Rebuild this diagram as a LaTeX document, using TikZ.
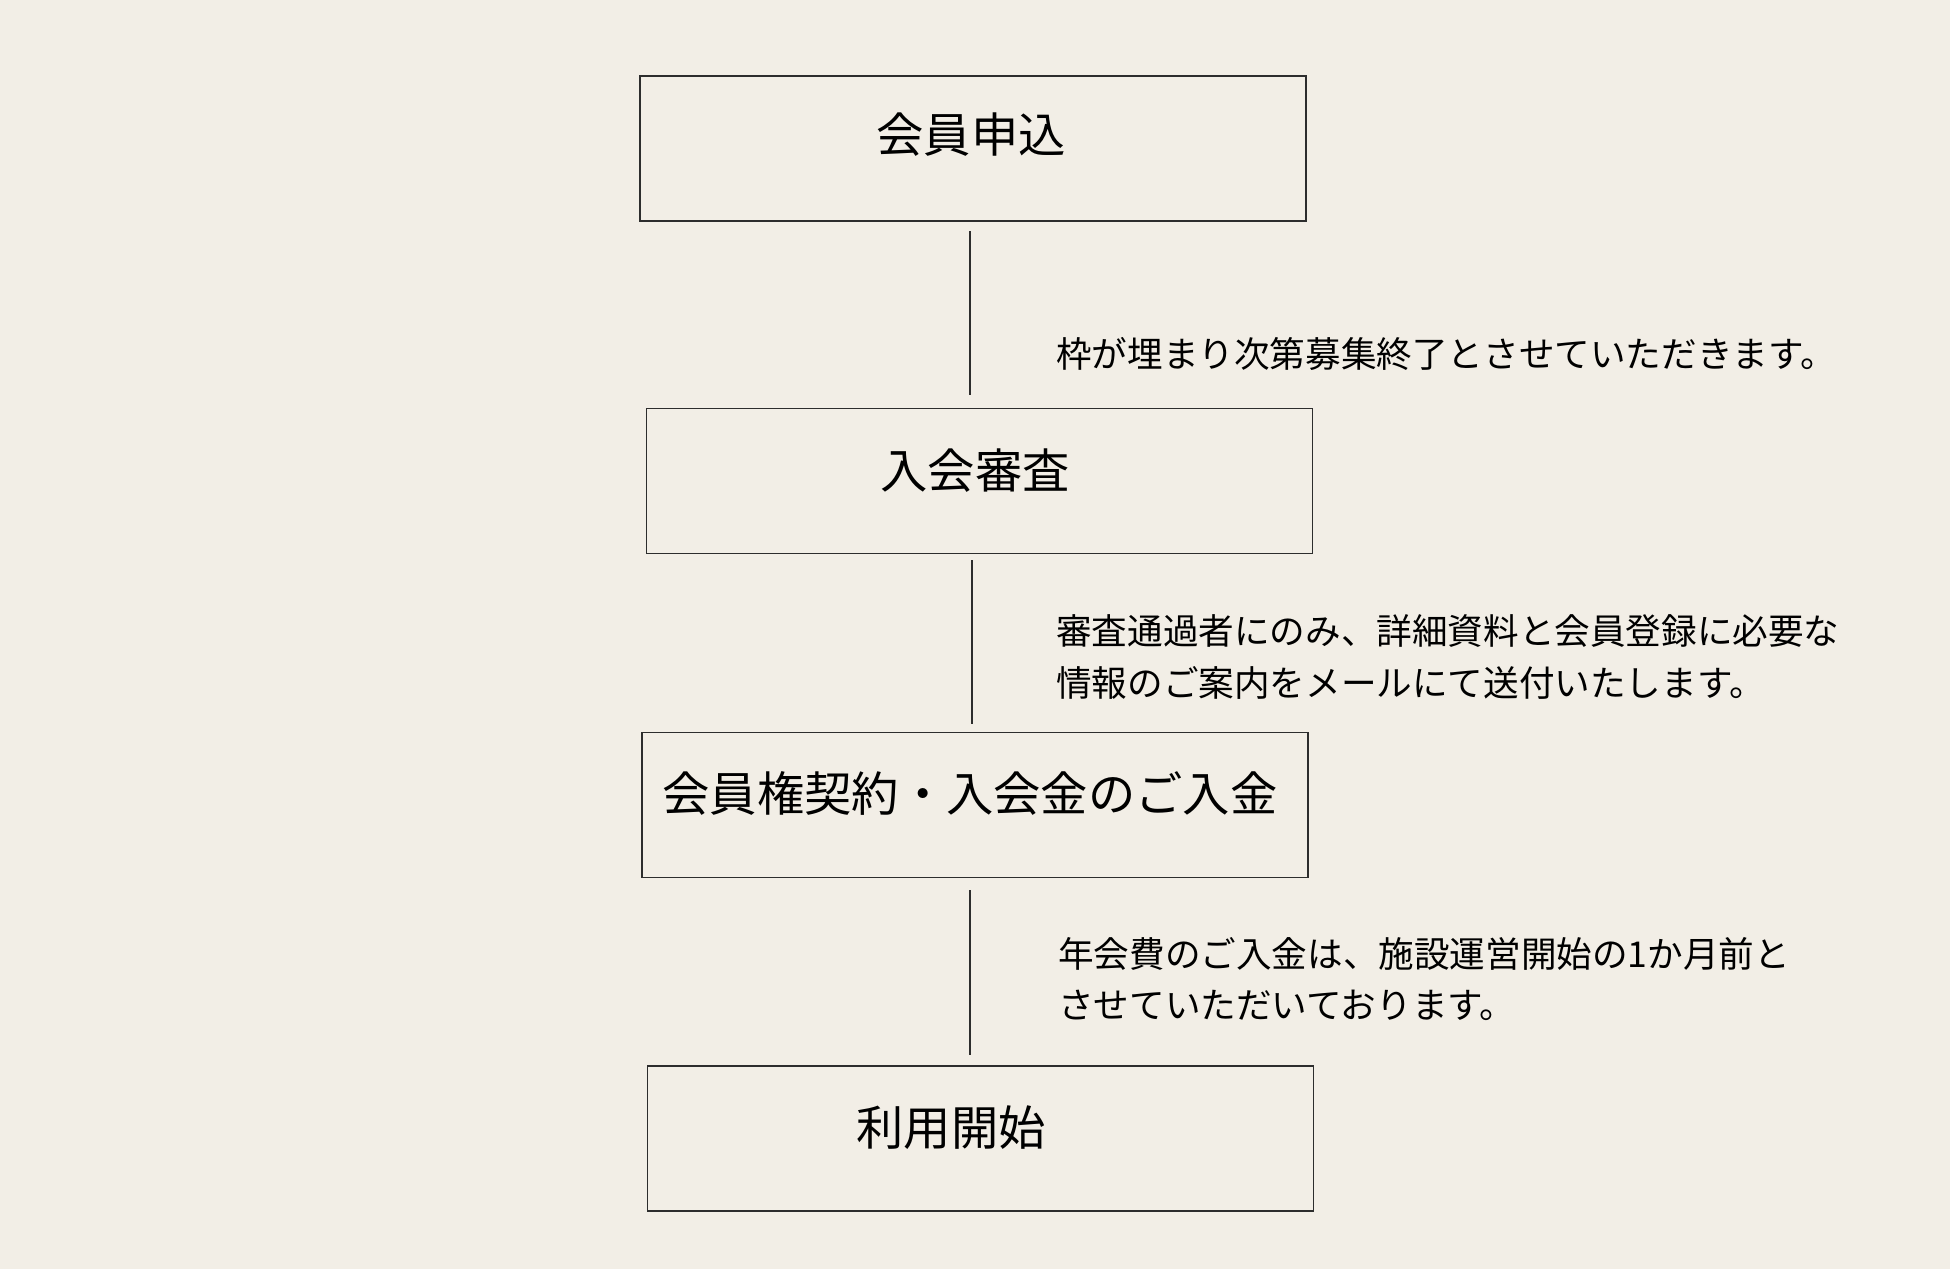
\documentclass[tikz,border=0pt]{standalone}
\usepackage{fontspec}
\setmainfont{Noto Sans CJK JP}
\definecolor{bg}{RGB}{242,238,230}
\definecolor{ln}{RGB}{45,45,45}
\begin{document}
\begin{tikzpicture}[x=1pt,y=-1pt,
  stepbox/.style={draw=ln, line width=1.3pt, minimum width=666pt, minimum height=145pt, inner sep=0pt},
  boxtext/.style={inner sep=0pt, anchor=base, text=black, font=\fontsize{47.3}{52}\selectfont},
  sidetext/.style={inner sep=0pt, anchor=base west, text=black, font=\fontsize{35.6}{52}\selectfont},
  conn/.style={draw=ln, line width=1.3pt}]
\path[fill=bg] (0,0) rectangle (1950,1269);
\useasboundingbox (0,0) rectangle (1950,1269);

\node[stepbox] (b1) at (973,148.5) {};
\node[stepbox] (b2) at (979.5,481) {};
\node[stepbox] (b3) at (975,805) {};
\node[stepbox] (b4) at (980.5,1138.5) {};

\node[boxtext] (t1) at (971,152) {会員申込};
\node[boxtext] (t2) at (975,488) {入会審査};
\node[boxtext] (t3) at (970,811) {会員権契約・入会金のご入金};
\node[boxtext] (t4) at (951,1145) {利用開始};

\coordinate (c1a) at (970,231);
\coordinate (c1b) at (970,395);
\coordinate (c2a) at (972,560);
\coordinate (c2b) at (972,724);
\coordinate (c3a) at (970,890);
\coordinate (c3b) at (970,1055);
\draw[conn] (c1a) -- (c1b);
\draw[conn] (c2a) -- (c2b);
\draw[conn] (c3a) -- (c3b);

\node[sidetext] (s1) at (1056,367) {枠が埋まり次第募集終了とさせていただきます。};
\node[sidetext] (s2a) at (1056,644) {審査通過者にのみ、詳細資料と会員登録に必要な};
\node[sidetext] (s2b) at (1056,696) {情報のご案内をメールにて送付いたします。};
\node[sidetext] (s3a) at (1058,967) {年会費のご入金は、施設運営開始の1か月前と};
\node[sidetext] (s3b) at (1058,1018) {させていただいております。};
\end{tikzpicture}
\end{document}
